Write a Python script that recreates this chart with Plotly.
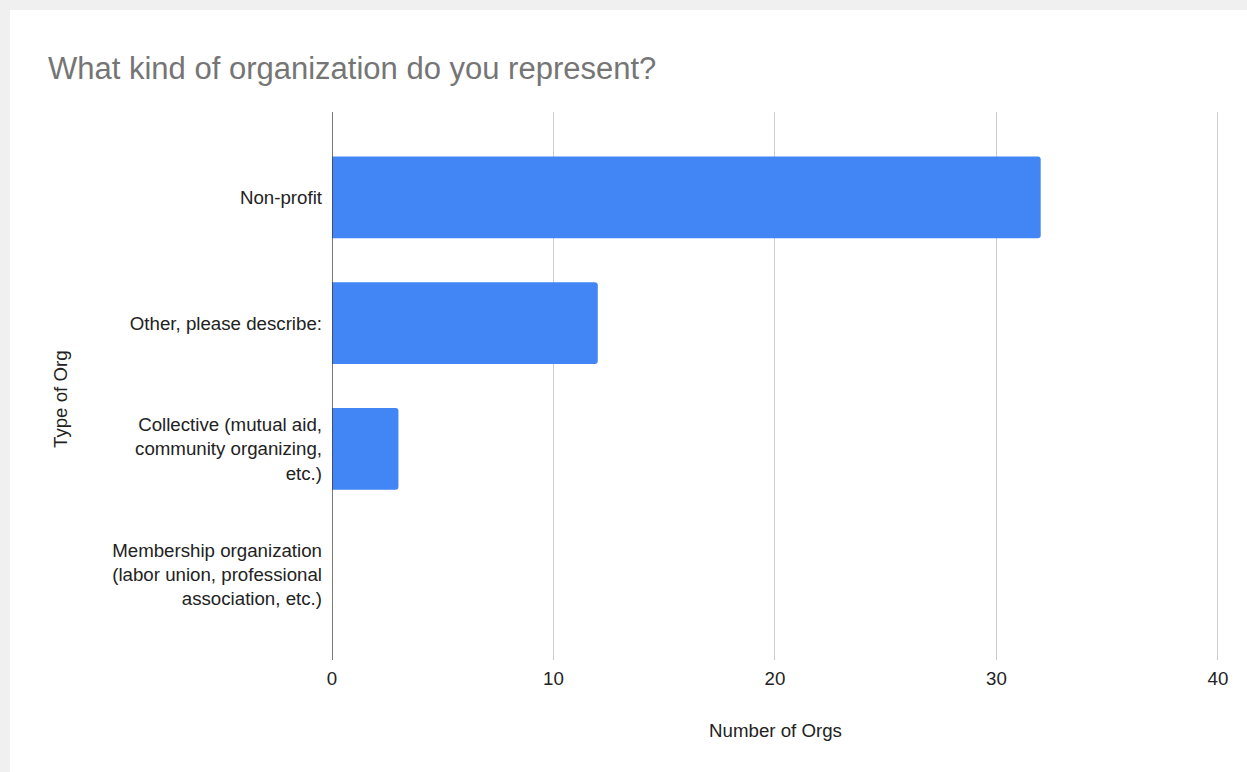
import plotly.graph_objects as go

# Survey responses: type of organization
categories = [
    "Non-profit",
    "Other, please describe:",
    "Collective (mutual aid,<br>community organizing,<br>etc.)",
    "Membership organization<br>(labor union, professional<br>association, etc.)",
]
counts = [32, 12, 3, 0]
x_ticks = [0, 10, 20, 30, 40]

W, H = 1247, 772
ML, MR, MT, MB = 332, 28, 112, 112
pw, ph = W - ML - MR, H - MT - MB

font = "Liberation Sans, Arial, sans-serif"
fs = 18.7

fig = go.Figure(
    go.Bar(
        x=counts,
        y=categories,
        orientation="h",
        marker=dict(color="#4285F4", line=dict(width=0)),
        width=0.65,
    )
)

fig.update_layout(
    width=W,
    height=H,
    margin=dict(l=ML, r=MR, t=MT, b=MB, pad=0),
    paper_bgcolor="#f0f0f0",
    plot_bgcolor="white",
    barcornerradius=3,
    showlegend=False,
    font=dict(family=font, size=fs, color="#222222"),
    title=dict(
        text="What kind of organization do you represent?",
        font=dict(family=font, size=31, color="#757575"),
        xref="container",
        yref="container",
        x=48 / W,
        xanchor="left",
        y=1 - 68 / H,
        yanchor="middle",
    ),
    xaxis=dict(
        range=[0, 40.05],
        tickvals=x_ticks,
        ticktext=[str(v) for v in x_ticks],
        showgrid=True,
        gridcolor="#cccccc",
        gridwidth=1,
        zeroline=False,
        showline=False,
        ticks="",
        ticklabelstandoff=5,
        tickfont=dict(size=fs, color="#222222"),
        title=dict(text="Number of Orgs", font=dict(size=fs, color="#222222"), standoff=36),
        fixedrange=True,
    ),
    yaxis=dict(
        categoryorder="array",
        categoryarray=categories[::-1],
        range=[-0.68, 3.68],
        showgrid=False,
        zeroline=False,
        showline=False,
        ticks="",
        ticklabelstandoff=9,
        tickfont=dict(size=fs, color="#222222"),
        fixedrange=True,
    ),
    shapes=[
        # white card over the light gray frame
        dict(
            type="rect",
            xref="paper",
            yref="paper",
            x0=(10 - ML) / pw,
            x1=(W + 5 - ML) / pw,
            y0=(H - MB - (H + 5)) / ph,
            y1=(H - MB - 10) / ph,
            fillcolor="white",
            line=dict(width=0),
            layer="below",
        ),
        # baseline at zero
        dict(
            type="line",
            xref="x",
            yref="paper",
            x0=0,
            x1=0,
            y0=0,
            y1=1,
            line=dict(color="#333333", width=1.3),
            layer="above",
        ),
    ],
)

# Vertical y-axis title near the left edge of the card
fig.add_annotation(
    text="Type of Org",
    textangle=-90,
    xref="paper",
    yref="paper",
    x=(61 - ML) / pw,
    y=(H - MB - 399) / ph,
    xanchor="center",
    yanchor="middle",
    showarrow=False,
    font=dict(family=font, size=fs, color="#222222"),
)

fig.write_html("out.html", config={"displayModeBar": False})
